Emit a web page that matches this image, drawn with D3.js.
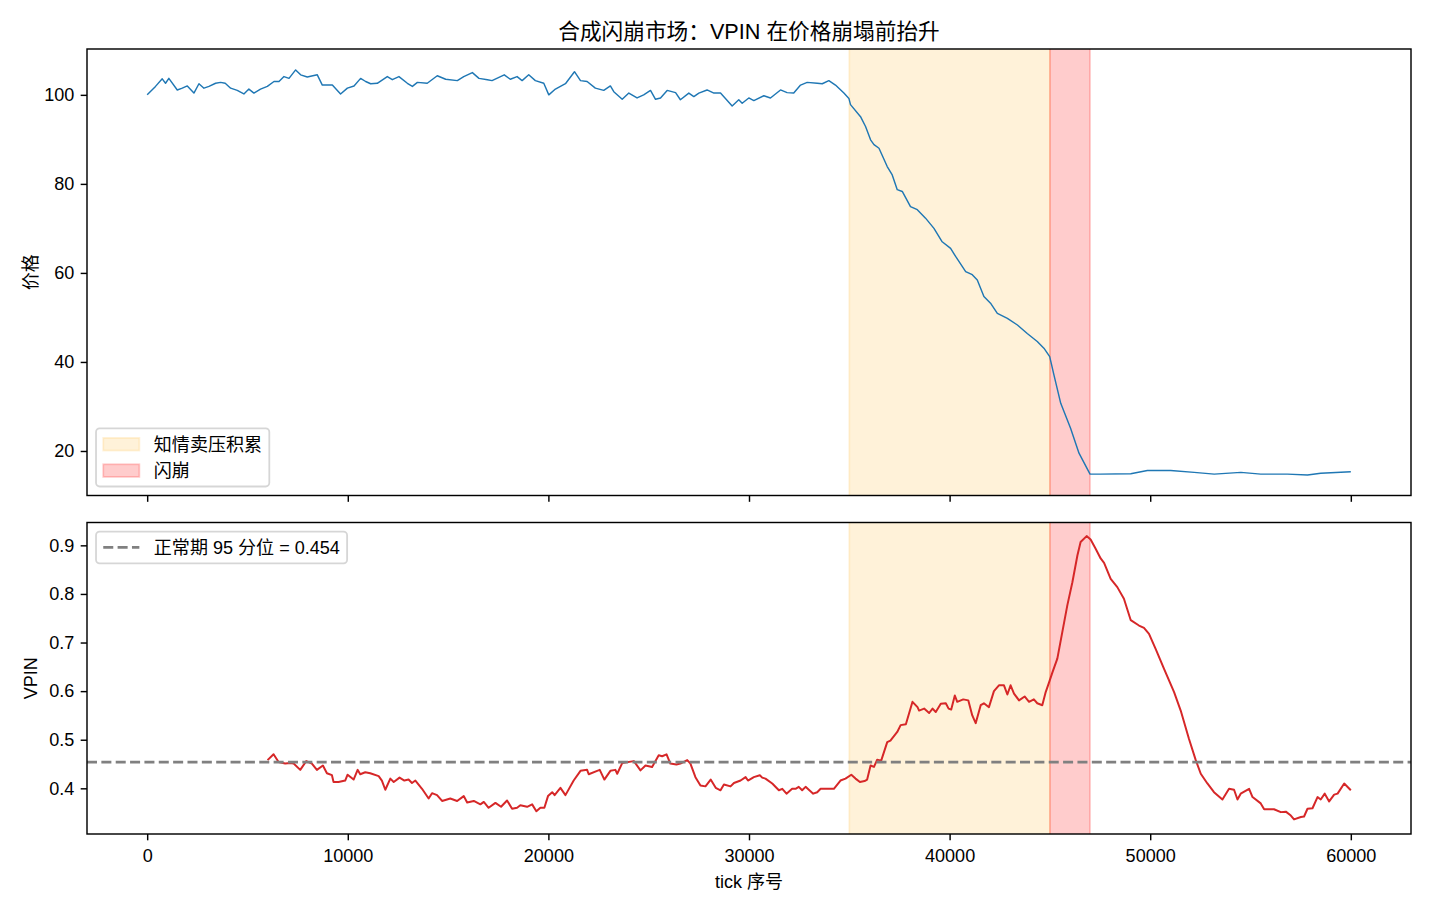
<!DOCTYPE html>
<html>
<head>
<meta charset="utf-8">
<script src="https://cdn.jsdelivr.net/npm/d3@7"></script>
<style>
  body { margin: 0; background: #fff; }
  text { font-family: "Liberation Sans", "Noto Sans CJK SC", sans-serif; fill: #000; }
</style>
</head>
<body>
<script>
// Data
const priceTick = [0, 415, 750, 915, 1080, 1500, 1750, 2000, 2330, 2580, 2830, 3080, 3410, 3660, 3890, 4160, 4490, 4820, 5070, 5320,
  5650, 5990, 6320, 6570, 6820, 7070, 7400, 7650, 7980, 8480, 8730, 9230, 9640, 9980, 10310, 10640, 10890, 11140, 11470, 11970,
  12220, 12550, 12970, 13220, 13470, 13960, 14460, 14880, 15460, 15780, 16210, 16540, 16960, 17190, 17800, 18100, 18440, 18690, 19020, 19350,
  19770, 20020, 20350, 20850, 21300, 21600, 21930, 22340, 22760, 23090, 23260, 23680, 24010, 24420, 24750, 25090, 25340, 25590, 25920, 26340,
  26580, 27000, 27250, 27500, 27910, 28250, 28580, 29160, 29490, 29660, 29990, 30240, 30740, 31070, 31570, 31900, 32230, 32570, 32900, 33400,
  33650, 33980, 34310, 34730, 34980, 35060, 35560, 35810, 36060, 36230, 36480, 36890, 37140, 37390, 37640, 38050, 38390, 38800, 39220, 39630,
  40050, 40300, 40800, 41130, 41380, 41710, 42040, 42380, 42880, 43380, 43870, 44370, 44700, 44990, 45200, 45540, 46030, 46450, 47000, 47500,
  49030, 49860, 51020, 52190, 53190, 54520, 55510, 56840, 57840, 58500, 60000];
const priceValue = [100.0, 101.9, 103.6, 102.6, 103.7, 101.1, 101.5, 102.0, 100.4, 102.5, 101.5, 101.9, 102.6, 102.8, 102.6, 101.5, 101.0, 100.2, 101.3, 100.4,
  101.3, 101.9, 103.0, 103.0, 104.1, 103.7, 105.6, 104.5, 104.0, 104.5, 102.2, 102.2, 100.2, 101.5, 102.0, 103.7, 103.0, 102.5, 102.6, 104.1,
  103.4, 104.1, 102.6, 101.9, 102.8, 102.6, 104.3, 103.5, 103.2, 104.1, 105.0, 103.7, 103.4, 103.2, 104.5, 103.5, 104.1, 103.2, 104.5, 103.2,
  102.6, 100.0, 101.3, 102.5, 105.2, 103.2, 103.0, 101.5, 101.0, 102.0, 100.7, 99.0, 100.4, 99.3, 100.0, 101.0, 99.0, 99.3, 101.0, 100.5,
  98.9, 100.4, 99.6, 100.4, 101.1, 100.4, 100.4, 97.5, 98.9, 98.1, 99.3, 98.7, 99.8, 99.3, 101.1, 100.5, 100.4, 102.2, 102.8, 102.6,
  102.5, 103.2, 102.2, 100.4, 99.2, 97.8, 95.1, 92.9, 89.9, 88.8, 88.0, 83.9, 82.0, 78.7, 78.3, 74.9, 74.2, 72.3, 70.0, 67.0,
  65.5, 63.7, 60.3, 59.6, 58.4, 54.7, 53.2, 50.9, 49.8, 48.3, 46.4, 44.6, 43.1, 41.2, 37.1, 30.7, 25.1, 19.5, 14.8, 14.8,
  14.9, 15.6, 15.6, 15.2, 14.8, 15.2, 14.8, 14.8, 14.6, 15.0, 15.35];

const vpinTick = [6000, 6300, 6550, 6880, 7130, 7300, 7630, 7930, 8210, 8460, 8760, 8960, 9210, 9290, 9540, 9870, 9990, 10290, 10490, 10620,
  10870, 11120, 11540, 11700, 11870, 12120, 12290, 12580, 12820, 13030, 13200, 13370, 13700, 14030, 14200, 14450, 14700, 15110, 15450, 15780,
  15950, 16280, 16610, 16780, 17020, 17360, 17640, 17940, 18190, 18440, 18600, 18940, 19190, 19400, 19600, 19800, 19980, 20190, 20310, 20600,
  20850, 21260, 21600, 21930, 22010, 22430, 22560, 22790, 23090, 23340, 23430, 23680, 24260, 24590, 24840, 25170, 25500, 25670, 25890, 26080,
  26380, 26580, 26920, 27080, 27330, 27580, 27830, 28090, 28340, 28580, 28750, 29080, 29250, 29580, 29830, 29950, 30240, 30540, 30660, 30820,
  31160, 31490, 31660, 31870, 32150, 32320, 32480, 32650, 32820, 33200, 33400, 33570, 33900, 34230, 34560, 34810, 35100, 35310, 35530, 35760,
  35890, 36060, 36230, 36390, 36590, 36890, 37050, 37390, 37560, 37820, 38150, 38400, 38480, 38730, 38980, 39150, 39310, 39560, 39810, 39950,
  40080, 40260, 40380, 40680, 40930, 41130, 41300, 41550, 41710, 41960, 42210, 42460, 42710, 42880, 43040, 43210, 43460, 43740, 43960, 44200,
  44370, 44620, 44790, 44950, 45130, 45370, 45620, 45870, 46120, 46370, 46530, 46830, 47030, 47280, 47530, 47700, 48030, 48360, 48690, 49030,
  49440, 49690, 49940, 50270, 50690, 51190, 51520, 51930, 52270, 52520, 52850, 53180, 53600, 53930, 54180, 54350, 54510, 54930, 55100, 55510,
  55680, 56170, 56510, 56760, 57010, 57170, 57510, 57670, 57840, 58090, 58340, 58500, 58700, 58920, 59170, 59340, 59670, 60000];
const vpinValue = [0.458, 0.470, 0.454, 0.451, 0.452, 0.451, 0.438, 0.456, 0.451, 0.438, 0.447, 0.431, 0.427, 0.413, 0.413, 0.416, 0.428, 0.418, 0.438, 0.429,
  0.433, 0.431, 0.425, 0.416, 0.397, 0.420, 0.413, 0.422, 0.416, 0.418, 0.411, 0.416, 0.399, 0.379, 0.390, 0.386, 0.374, 0.379, 0.374, 0.384,
  0.371, 0.374, 0.367, 0.372, 0.360, 0.370, 0.362, 0.375, 0.358, 0.360, 0.365, 0.362, 0.367, 0.353, 0.360, 0.360, 0.384, 0.392, 0.386, 0.401,
  0.386, 0.416, 0.436, 0.438, 0.429, 0.436, 0.438, 0.418, 0.436, 0.438, 0.430, 0.452, 0.456, 0.437, 0.447, 0.444, 0.468, 0.466, 0.470, 0.451,
  0.449, 0.451, 0.458, 0.451, 0.423, 0.406, 0.404, 0.418, 0.401, 0.396, 0.408, 0.404, 0.411, 0.416, 0.423, 0.416, 0.423, 0.427, 0.422, 0.420,
  0.410, 0.396, 0.399, 0.389, 0.399, 0.399, 0.403, 0.396, 0.403, 0.389, 0.392, 0.399, 0.399, 0.399, 0.416, 0.420, 0.428, 0.420, 0.413, 0.415,
  0.418, 0.447, 0.444, 0.459, 0.457, 0.495, 0.498, 0.516, 0.530, 0.532, 0.578, 0.567, 0.560, 0.564, 0.555, 0.564, 0.557, 0.574, 0.575, 0.564,
  0.562, 0.591, 0.578, 0.583, 0.581, 0.550, 0.534, 0.571, 0.575, 0.567, 0.600, 0.612, 0.612, 0.593, 0.612, 0.595, 0.581, 0.589, 0.578, 0.583,
  0.575, 0.571, 0.598, 0.617, 0.639, 0.667, 0.722, 0.777, 0.824, 0.879, 0.907, 0.919, 0.912, 0.893, 0.873, 0.864, 0.831, 0.814, 0.790, 0.746,
  0.735, 0.730, 0.718, 0.687, 0.646, 0.598, 0.560, 0.502, 0.458, 0.430, 0.410, 0.392, 0.377, 0.399, 0.397, 0.377, 0.389, 0.399, 0.382, 0.369,
  0.357, 0.357, 0.351, 0.352, 0.344, 0.336, 0.341, 0.342, 0.358, 0.359, 0.382, 0.377, 0.389, 0.373, 0.387, 0.389, 0.410, 0.396];

// Phases shaded on both panels
const phaseNames = ["知情卖压积累", "闪崩"];
const phaseStart = [35000, 45000];
const phaseEnd = [45000, 47000];

// Normal period 95th percentile
const threshold = 0.454;

const xTickValues = [0, 10000, 20000, 30000, 40000, 50000, 60000];
const priceTickValues = [20, 40, 60, 80, 100];
const vpinTickValues = [0.4, 0.5, 0.6, 0.7, 0.8, 0.9];

const titleText = "合成闪崩市场：VPIN 在价格崩塌前抬升";
const xLabel = "tick 序号";
const priceLabel = "价格";
const vpinLabel = "VPIN";
const thresholdLabel = `正常期 95 分位 = ${threshold.toFixed(3)}`;

// Layout (1 pt = 130/72 px)
const width = 1430;
const height = 910;
const pt = 130 / 72;
const left = 87, right = 1411;
const pricePanel = { top: 49, bottom: 495.5 };
const vpinPanel = { top: 522.5, bottom: 834 };
const phaseColors = ["orange", "red"];
const phaseAlpha = [0.15, 0.2];
const fontSize = 10 * pt;

const svg = d3.select("body")
  .append("svg")
  .attr("width", width)
  .attr("height", height);

svg.append("rect").attr("width", width).attr("height", height).attr("fill", "#fff");

// Shared x scale
const x = d3.scaleLinear().domain([-3000, 63000]).range([left, right]);

const yPrice = d3.scaleLinear().domain([10.0, 110.3]).range([pricePanel.bottom, pricePanel.top]);
const yVpin = d3.scaleLinear().domain([0.306, 0.947]).range([vpinPanel.bottom, vpinPanel.top]);

const defs = svg.append("defs");

function makePanel(name, box) {
  defs.append("clipPath").attr("id", `clip-${name}`)
    .append("rect")
    .attr("x", left).attr("y", box.top)
    .attr("width", right - left).attr("height", box.bottom - box.top);
  const g = svg.append("g").attr("class", name);
  const plot = g.append("g").attr("clip-path", `url(#clip-${name})`);

  // Shaded phases
  plot.selectAll("rect.phase")
    .data(phaseNames)
    .join("rect")
    .attr("class", "phase")
    .attr("x", (d, i) => x(phaseStart[i]))
    .attr("width", (d, i) => x(phaseEnd[i]) - x(phaseStart[i]))
    .attr("y", box.top - 5)
    .attr("height", box.bottom - box.top + 10)
    .attr("fill", (d, i) => phaseColors[i])
    .attr("fill-opacity", (d, i) => phaseAlpha[i])
    .attr("stroke", (d, i) => phaseColors[i])
    .attr("stroke-opacity", (d, i) => phaseAlpha[i])
    .attr("stroke-width", 1 * pt);
  return { g, plot };
}

function styleAxis(sel) {
  sel.select(".domain").remove();
  sel.selectAll(".tick line").attr("stroke", "#000").attr("stroke-width", 0.8 * pt);
  sel.selectAll(".tick text").attr("font-size", fontSize).attr("fill", "#000");
}

// Top panel: price
const priceAx = makePanel("price", pricePanel);

priceAx.plot.append("path")
  .datum(priceTick.map((t, i) => [t, priceValue[i]]))
  .attr("fill", "none")
  .attr("stroke", "#1f77b4")
  .attr("stroke-width", 0.8 * pt)
  .attr("stroke-linejoin", "round")
  .attr("d", d3.line().x(d => x(d[0])).y(d => yPrice(d[1])));

priceAx.g.append("g")
  .attr("transform", `translate(${left},0)`)
  .call(d3.axisLeft(yPrice).tickValues(priceTickValues).tickSize(3.5 * pt).tickPadding(3.5 * pt).tickFormat(d3.format("d")))
  .call(styleAxis);

priceAx.g.append("g")
  .attr("transform", `translate(0,${pricePanel.bottom})`)
  .call(d3.axisBottom(x).tickValues(xTickValues).tickSize(3.5 * pt).tickFormat(""))
  .call(styleAxis);

// Bottom panel: VPIN
const vpinAx = makePanel("vpin", vpinPanel);

vpinAx.plot.append("path")
  .datum(vpinTick.map((t, i) => [t, vpinValue[i]]))
  .attr("fill", "none")
  .attr("stroke", "#d62728")
  .attr("stroke-width", 1.1 * pt)
  .attr("stroke-linejoin", "round")
  .attr("d", d3.line().x(d => x(d[0])).y(d => yVpin(d[1])));

const dash = `${3.7 * 1.5 * pt},${1.6 * 1.5 * pt}`;
vpinAx.plot.append("line")
  .attr("x1", left).attr("x2", right)
  .attr("y1", yVpin(threshold)).attr("y2", yVpin(threshold))
  .attr("stroke", "gray")
  .attr("stroke-width", 1.5 * pt)
  .attr("stroke-dasharray", dash);

vpinAx.g.append("g")
  .attr("transform", `translate(${left},0)`)
  .call(d3.axisLeft(yVpin).tickValues(vpinTickValues).tickSize(3.5 * pt).tickPadding(3.5 * pt).tickFormat(d3.format(".1f")))
  .call(styleAxis);

vpinAx.g.append("g")
  .attr("transform", `translate(0,${vpinPanel.bottom})`)
  .call(d3.axisBottom(x).tickValues(xTickValues).tickSize(3.5 * pt).tickPadding(4.8 * pt).tickFormat(d3.format("d")))
  .call(styleAxis);

// Spines
[pricePanel, vpinPanel].forEach(box => {
  svg.append("rect")
    .attr("x", left).attr("y", box.top)
    .attr("width", right - left).attr("height", box.bottom - box.top)
    .attr("fill", "none")
    .attr("stroke", "#000")
    .attr("stroke-width", 0.8 * pt);
});

// Title and labels
svg.append("text")
  .attr("x", (left + right) / 2).attr("y", 38.5)
  .attr("text-anchor", "middle")
  .attr("font-size", 12 * pt)
  .text(titleText);

svg.append("text")
  .attr("x", (left + right) / 2).attr("y", 888)
  .attr("text-anchor", "middle")
  .attr("font-size", fontSize)
  .text(xLabel);

svg.append("text")
  .attr("transform", `translate(37,${(pricePanel.top + pricePanel.bottom) / 2}) rotate(-90)`)
  .attr("text-anchor", "middle")
  .attr("font-size", fontSize)
  .text(priceLabel);

svg.append("text")
  .attr("transform", `translate(37,${(vpinPanel.top + vpinPanel.bottom) / 2}) rotate(-90)`)
  .attr("text-anchor", "middle")
  .attr("font-size", fontSize)
  .text(vpinLabel);

// Legends
const pad = 0.4 * fontSize;
const rowH = 0.96 * fontSize;
const rowGap = 0.5 * fontSize;
const handleLen = 2.0 * fontSize;
const handleGap = 0.8 * fontSize;
const axPad = 0.5 * fontSize;

function drawLegend(rows, anchor) {
  const g = svg.append("g");
  const frame = g.append("rect");
  const boxH = pad * 2 + rows.length * rowH + (rows.length - 1) * rowGap;
  const boxX = left + axPad;
  const boxY = anchor === "lower left" ? pricePanel.bottom - axPad - boxH : vpinPanel.top + axPad;
  let maxW = 0;
  rows.forEach((r, i) => {
    const cy = boxY + pad + rowH / 2 + i * (rowH + rowGap);
    const hx = boxX + pad;
    if (r.type === "patch") {
      g.append("rect")
        .attr("x", hx).attr("y", cy - 0.35 * fontSize)
        .attr("width", handleLen).attr("height", 0.7 * fontSize)
        .attr("fill", r.color).attr("fill-opacity", r.alpha)
        .attr("stroke", r.color).attr("stroke-opacity", r.alpha)
        .attr("stroke-width", 1 * pt);
    } else {
      g.append("line")
        .attr("x1", hx).attr("x2", hx + handleLen)
        .attr("y1", cy).attr("y2", cy)
        .attr("stroke", "gray").attr("stroke-width", 1.5 * pt)
        .attr("stroke-dasharray", dash);
    }
    const t = g.append("text")
      .attr("x", hx + handleLen + handleGap).attr("y", cy)
      .attr("dy", "0.36em")
      .attr("font-size", fontSize)
      .text(r.label);
    maxW = Math.max(maxW, t.node().getComputedTextLength());
  });
  frame
    .attr("x", boxX).attr("y", boxY)
    .attr("width", pad * 2 + handleLen + handleGap + maxW).attr("height", boxH)
    .attr("rx", 0.2 * fontSize)
    .attr("fill", "#fff").attr("fill-opacity", 0.8)
    .attr("stroke", "#cccccc").attr("stroke-opacity", 0.8)
    .attr("stroke-width", 1 * pt);
}

drawLegend(phaseNames.map((n, i) => ({ type: "patch", label: n, color: phaseColors[i], alpha: phaseAlpha[i] })), "lower left");
drawLegend([{ type: "line", label: thresholdLabel }], "upper left");
</script>
</body>
</html>
